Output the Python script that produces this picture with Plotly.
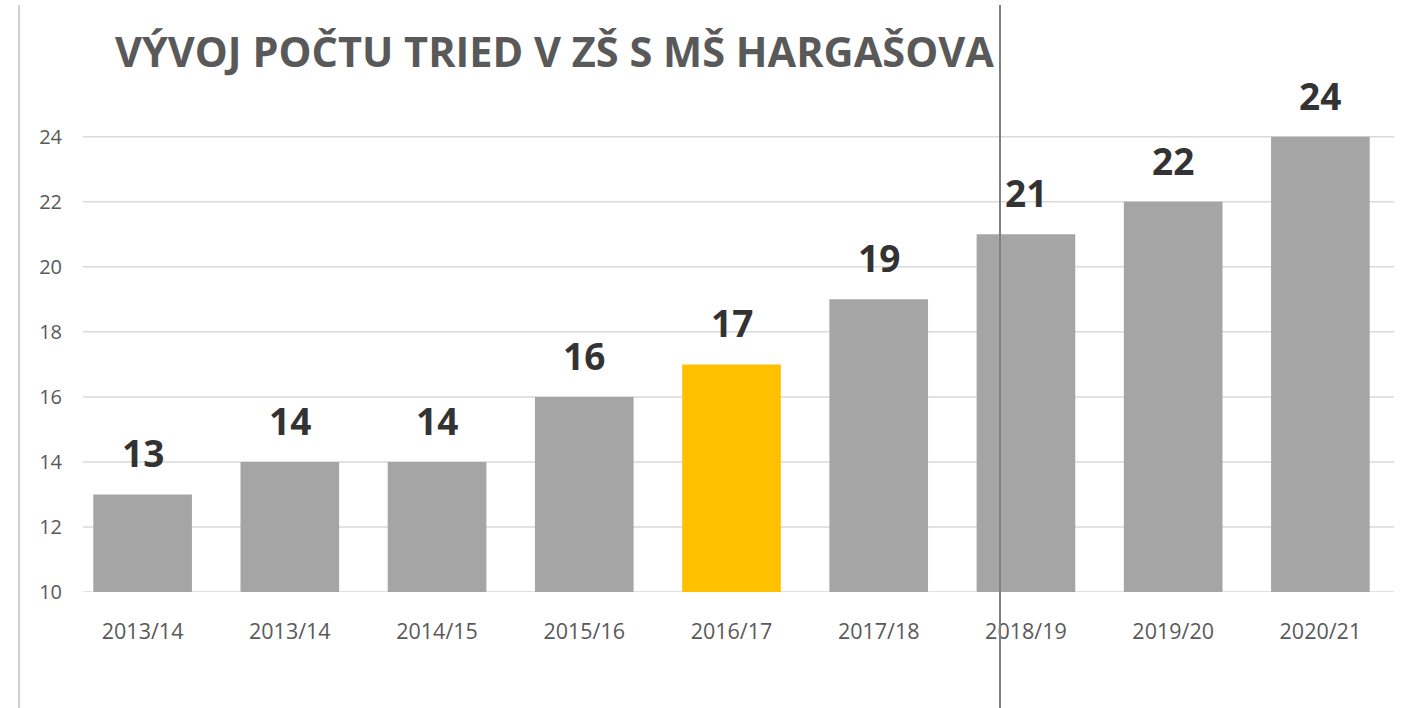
import plotly.graph_objects as go

categories = ["2013/14", "2013/14", "2014/15", "2015/16", "2016/17", "2017/18", "2018/19", "2019/20", "2020/21"]
values = [13, 14, 14, 16, 17, 19, 21, 22, 24]
y_ticks = [10, 12, 14, 16, 18, 20, 22, 24]
highlight_index = 4
title_text = "VÝVOJ POČTU TRIED V ZŠ S MŠ HARGAŠOVA"

GRAY = "#A5A5A5"
GOLD = "#FFC000"
colors = [GOLD if i == highlight_index else GRAY for i in range(len(values))]
positions = list(range(len(categories)))

W, H = 1414, 708
ml, mr, mt, mb = 69, 20, 88, 116

fig = go.Figure()
fig.add_trace(go.Bar(
    x=positions, y=values,
    marker=dict(color=colors, line=dict(width=0)),
    hoverinfo="skip",
))

for xp, v in zip(positions, values):
    fig.add_annotation(
        x=xp, y=v, text=str(v), showarrow=False,
        xanchor="center", yanchor="bottom", yshift=14,
        font=dict(family="Open Sans", size=37, color="#333333", weight="bold"),
    )

def px_to_paper_x(px):
    return (px - ml) / (W - ml - mr)

y_lo = (mb - H) / (H - mt - mb)
y_hi = (H - mb - 5) / (H - mt - mb)

shapes = [
    dict(type="line", xref="paper", yref="y", layer="below",
         x0=px_to_paper_x(83), x1=1, y0=t, y1=t,
         line=dict(color="#D9D9D9", width=1.5))
    for t in y_ticks
]
shapes += [
    dict(type="line", xref="paper", yref="paper",
         x0=px_to_paper_x(1000), x1=px_to_paper_x(1000),
         y0=y_lo, y1=y_hi,
         line=dict(color="#7F7F7F", width=2)),
    dict(type="line", xref="paper", yref="paper",
         x0=px_to_paper_x(19), x1=px_to_paper_x(19),
         y0=y_lo, y1=y_hi,
         line=dict(color="#D0D0D0", width=2)),
]

fig.update_layout(
    width=W, height=H,
    margin=dict(l=ml, r=mr, t=mt, b=mb),
    paper_bgcolor="white", plot_bgcolor="white",
    showlegend=False,
    bargap=0.33,
    title=dict(
        text=title_text,
        x=115 / W, xanchor="left", y=1 - 52 / H, yanchor="middle",
        font=dict(family="Open Sans", size=41.5, color="#595959", weight="bold"),
    ),
    xaxis=dict(
        tickmode="array", tickvals=positions, ticktext=categories,
        range=[-0.5, len(categories) - 0.5],
        showgrid=False, zeroline=False, showline=False, ticks="",
        tickfont=dict(family="Open Sans", size=21.5, color="#595959"),
        ticklabelstandoff=24,
    ),
    yaxis=dict(
        range=[10, 25.5], tickmode="array", tickvals=y_ticks,
        showgrid=False, zeroline=False, showline=False, ticks="",
        tickfont=dict(family="Open Sans", size=20, color="#595959"),
        ticklabelstandoff=6,
    ),
    shapes=shapes,
)

fig.write_html("out.html")
